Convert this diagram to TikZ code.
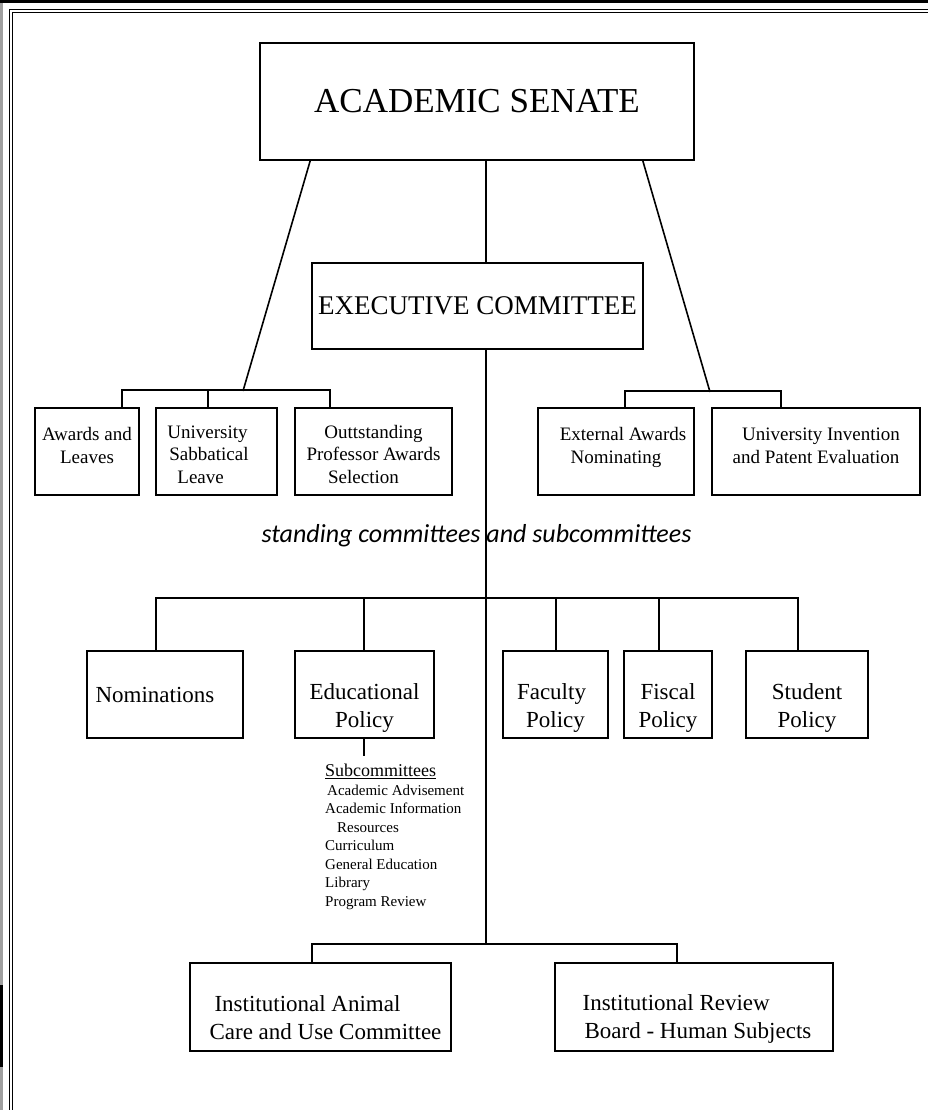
\documentclass[tikz,border=0pt]{standalone}
\usepackage{fontspec}
\setmainfont{Liberation Serif}
\newfontfamily\notefont{Carlito}
\usetikzlibrary{positioning}

\begin{document}
\begin{tikzpicture}[x=1pt, y=-1pt,
    box/.style={draw, line width=1.6pt, inner sep=2pt, align=center,
                minimum height=87pt},
    smallbox/.style={box, font=\fontsize{19}{22.5}\selectfont},
    midbox/.style={box, font=\fontsize{23}{28}\selectfont},
    lowtext/.style={text height=71pt},
    hightext/.style={text depth=12pt},
    link/.style={line width=1.6pt},
    frame/.style={line width=1.3pt}
]
    \useasboundingbox (0,0) rectangle (928,1110);

    % page frame
    \fill[black] (0,0) rectangle (928,3.5);
    \fill[gray!75] (0,3.5) rectangle (3,1110);
    \fill[black] (0,985) rectangle (3,1067);
    \draw[frame] (9.5,1110) -- (9.5,9.5) -- (928,9.5);
    \draw[frame] (12.8,1110) -- (12.8,12.8) -- (928,12.8);

    \node[box, minimum width=434pt, minimum height=117pt,
          font=\fontsize{35}{40}\selectfont] (senate) at (477,101.5) {ACADEMIC SENATE};
    \node[box, minimum width=331pt, minimum height=86pt,
          font=\fontsize{27}{32}\selectfont] (exec) at (477.5,306) {EXECUTIVE COMMITTEE};

    % awards and leaves
    \node[smallbox, hightext, minimum width=104pt] (awards) at (87,451.5) {Awards and\\Leaves};
    \node[smallbox, text height=64pt, align=left, minimum width=121pt] (sabbatical) at (216.5,451.5)
          {University\hspace*{18pt}\\\hspace*{2pt}Sabbatical\\\hspace*{10pt}Leave};
    \node[smallbox, text height=64pt, minimum width=157pt] (outstanding) at (373.5,451.5)
          {Outtstanding\\Professor Awards\\Selection\hspace*{20pt}};
    \node[smallbox, hightext, minimum width=156pt] (external) at (616,451.5)
          {\hspace*{14pt}External Awards\\Nominating};
    \node[smallbox, hightext, minimum width=208pt] (invention) at (816,451.5)
          {\hspace*{10pt}University Invention\\and Patent Evaluation};

    \coordinate (lbus) at (243,391);
    \coordinate (rbus) at (710,392);
    \coordinate (tbot) at (486,945);

    \draw[link] ([xshift=51pt]senate.south west) -- (lbus);
    \draw[link] ([xshift=-52pt]senate.south east) -- (rbus);
    \draw[link] (senate.south -| tbot) -- (exec.north -| tbot);

    \draw[link] ([xshift=35pt]awards.north) -- ++(0,-17) -| ([xshift=-43.5pt]outstanding.north);
    \draw[link] ([xshift=-8.5pt]sabbatical.north) -- ++(0,-17);
    \draw[link] ([xshift=9pt]external.north) -- ++(0,-16) -| ([xshift=-35pt]invention.north);

    % trunk
    \draw[link] (exec.south -| tbot) -- (tbot);
    \node[font=\notefont\itshape\fontsize{26}{30}\selectfont] (standing) at (476.5,536)
          {standing committees and subcommittees};

    % standing committees
    \node[midbox, minimum width=156pt] (nominations) at (165,694.5) {Nominations\hspace*{20pt}};
    \node[midbox, lowtext, minimum width=139pt] (educational) at (364.5,694.5) {Educational\\Policy};
    \node[midbox, lowtext, minimum width=105pt] (faculty) at (555.5,694.5) {Faculty\hspace*{8pt}\\Policy};
    \node[midbox, lowtext, minimum width=88pt] (fiscal) at (668,694.5) {Fiscal\\Policy};
    \node[midbox, lowtext, minimum width=122pt] (student) at (807,694.5) {Student\\Policy};

    \draw[link] ([xshift=-9pt]nominations.north) -- ++(0,-52) -| ([xshift=-9pt]student.north);
    \draw[link] ([xshift=-0.5pt]educational.north) -- ++(0,-52);
    \draw[link] ([xshift=0.5pt]faculty.north) -- ++(0,-52);
    \draw[link] ([xshift=-9pt]fiscal.north) -- ++(0,-52);

    % subcommittees of educational policy
    \draw[link] ([xshift=-0.5pt]educational.south) -- ++(0,17);
    \node[anchor=north west, align=left, inner sep=0pt,
          font=\fontsize{15}{18.5}\selectfont] (subs) at (325,764)
          {{\fontsize{18}{19}\selectfont\underline{Subcommittees}}\\
           \hspace*{2pt}Academic Advisement\\
           Academic Information\\
           \hspace*{12pt}Resources\\
           Curriculum\\
           General Education\\
           Library\\
           Program Review};

    % institutional boards
    \node[midbox, text height=65pt, align=left, minimum width=261pt, minimum height=88pt] (animal) at (320.5,1007)
          {\hspace*{15pt}Institutional Animal\\\hspace*{10pt}Care and Use Committee};
    \node[midbox, text height=67pt, align=left, minimum width=278pt, minimum height=88pt] (review) at (694,1007)
          {\hspace*{6pt}Institutional Review\\\hspace*{8pt}Board - Human Subjects};

    \draw[link] ([xshift=-8.5pt]animal.north) -- ++(0,-18) -| ([xshift=-17pt]review.north);
\end{tikzpicture}
\end{document}
